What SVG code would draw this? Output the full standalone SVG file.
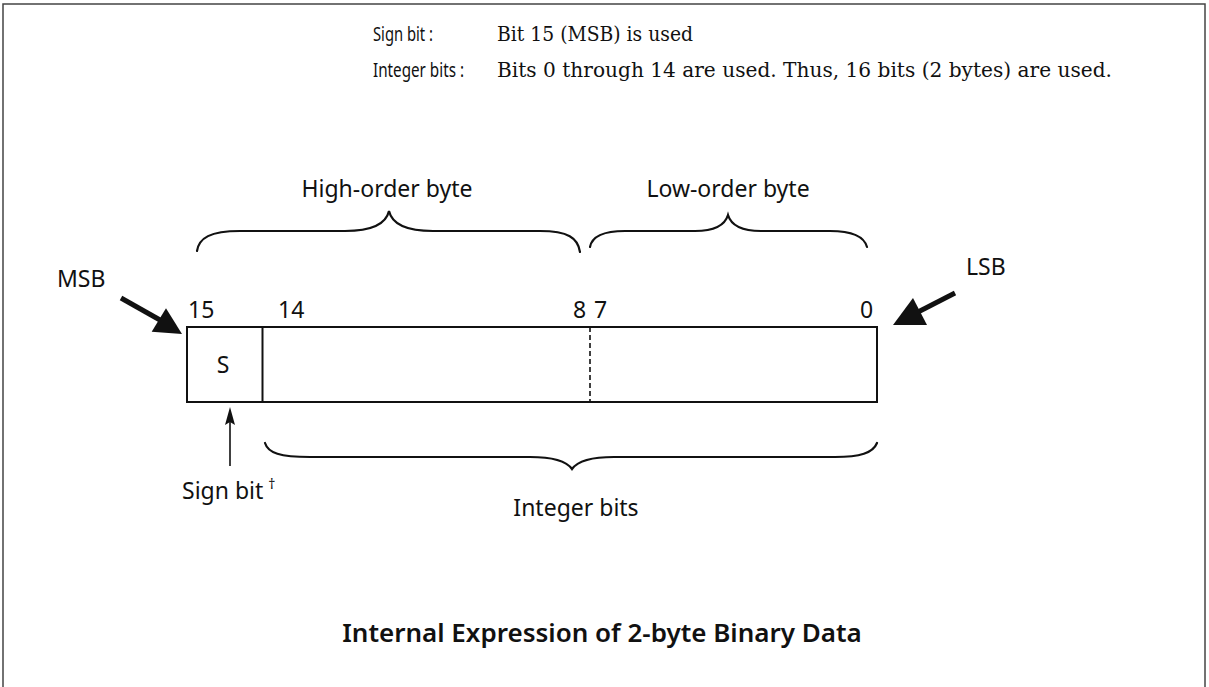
<svg xmlns="http://www.w3.org/2000/svg" width="1209" height="687" viewBox="0 0 1209 687">
<style>
.sans{font-family:"Noto Sans","Open Sans","Liberation Sans",sans-serif;fill:#111}
.serif{font-family:"DejaVu Serif","Liberation Serif",serif;fill:#111}
.lbl{font-size:23px}
.ln{fill:none;stroke:#111;stroke-width:2}
.br{fill:none;stroke:#111;stroke-width:2.2;stroke-linecap:round}
</style>
<rect x="3" y="4" width="1202" height="710" fill="#fff" stroke="#444" stroke-width="1.5"/>
<g id="header">
<text class="sans" x="373" y="41" font-size="19" textLength="60" lengthAdjust="spacingAndGlyphs">Sign bit :</text>
<text class="serif" x="497" y="41" font-size="21" textLength="196" lengthAdjust="spacingAndGlyphs">Bit 15 (MSB) is used</text>
<text class="sans" x="373" y="77" font-size="19" textLength="91" lengthAdjust="spacingAndGlyphs">Integer bits :</text>
<text class="serif" x="497" y="77" font-size="21" textLength="615" lengthAdjust="spacingAndGlyphs">Bits 0 through 14 are used. Thus, 16 bits (2 bytes) are used.</text>
</g>
<g id="register">
<rect class="ln" x="187" y="327" width="690" height="75"/>
<line class="ln" x1="262.5" y1="327" x2="262.5" y2="402"/>
<line x1="590" y1="327" x2="590" y2="402" stroke="#111" stroke-width="1.6" stroke-dasharray="5,3"/>
<text class="sans lbl" x="223" y="373" text-anchor="middle">S</text>
<text class="sans lbl" x="188" y="318">15</text>
<text class="sans lbl" x="278" y="318">14</text>
<text class="sans lbl" x="573" y="318">8</text>
<text class="sans lbl" x="594" y="318">7</text>
<text class="sans lbl" x="860" y="318">0</text>
</g>
<g id="high-byte">
<path class="br" d="M197,251 C199,238 210,231 240,231 L345,231 C372,231 386,224 389,211 C392,224 406,231 433,231 L540,231 C568,231 578,238 580,252"/>
<text class="sans lbl" x="387" y="197" text-anchor="middle">High-order byte</text>
</g>
<g id="low-byte">
<path class="br" d="M590,247 C592,236 603,231 625,231 L695,231 C716,231 725,225 728,215 C731,225 740,231 761,231 L830,231 C852,231 864,236 867,247"/>
<text class="sans lbl" x="728" y="197" text-anchor="middle">Low-order byte</text>
</g>
<g id="integer-bits">
<path class="br" d="M265,443 C268,453 280,457 310,457 L530,457 C555,457 567,462 572,469 C577,462 589,457 614,457 L835,457 C860,457 873,453 877,443"/>
<text class="sans lbl" x="576" y="516" text-anchor="middle">Integer bits</text>
</g>
<g id="msb">
<text class="sans lbl" x="57" y="287">MSB</text>
</g>
<g id="lsb">
<text class="sans lbl" x="966" y="275">LSB</text>
</g>
<g id="sign-bit">
<text class="sans lbl" x="182" y="499">Sign bit<tspan font-size="14" dx="5" dy="-10" fill="#111">†</tspan></text>
</g>
<g id="connectors">
<line x1="121" y1="298" x2="160" y2="320" stroke="#111" stroke-width="5"/>
<polygon points="151.7,331.7 166,308.3 182,334" fill="#111"/>
<line x1="955" y1="293" x2="918" y2="312" stroke="#111" stroke-width="5"/>
<polygon points="893,325 913,298 927,325" fill="#111"/>
<line x1="230" y1="466" x2="230" y2="420" stroke="#111" stroke-width="1.6"/>
<polygon points="230,407 225,425 230,422 235,425" fill="#111"/>
</g>
<g id="title">
<text class="sans" x="602" y="642" font-size="26" font-weight="600" text-anchor="middle">Internal Expression of 2-byte Binary Data</text>
</g>
</svg>
